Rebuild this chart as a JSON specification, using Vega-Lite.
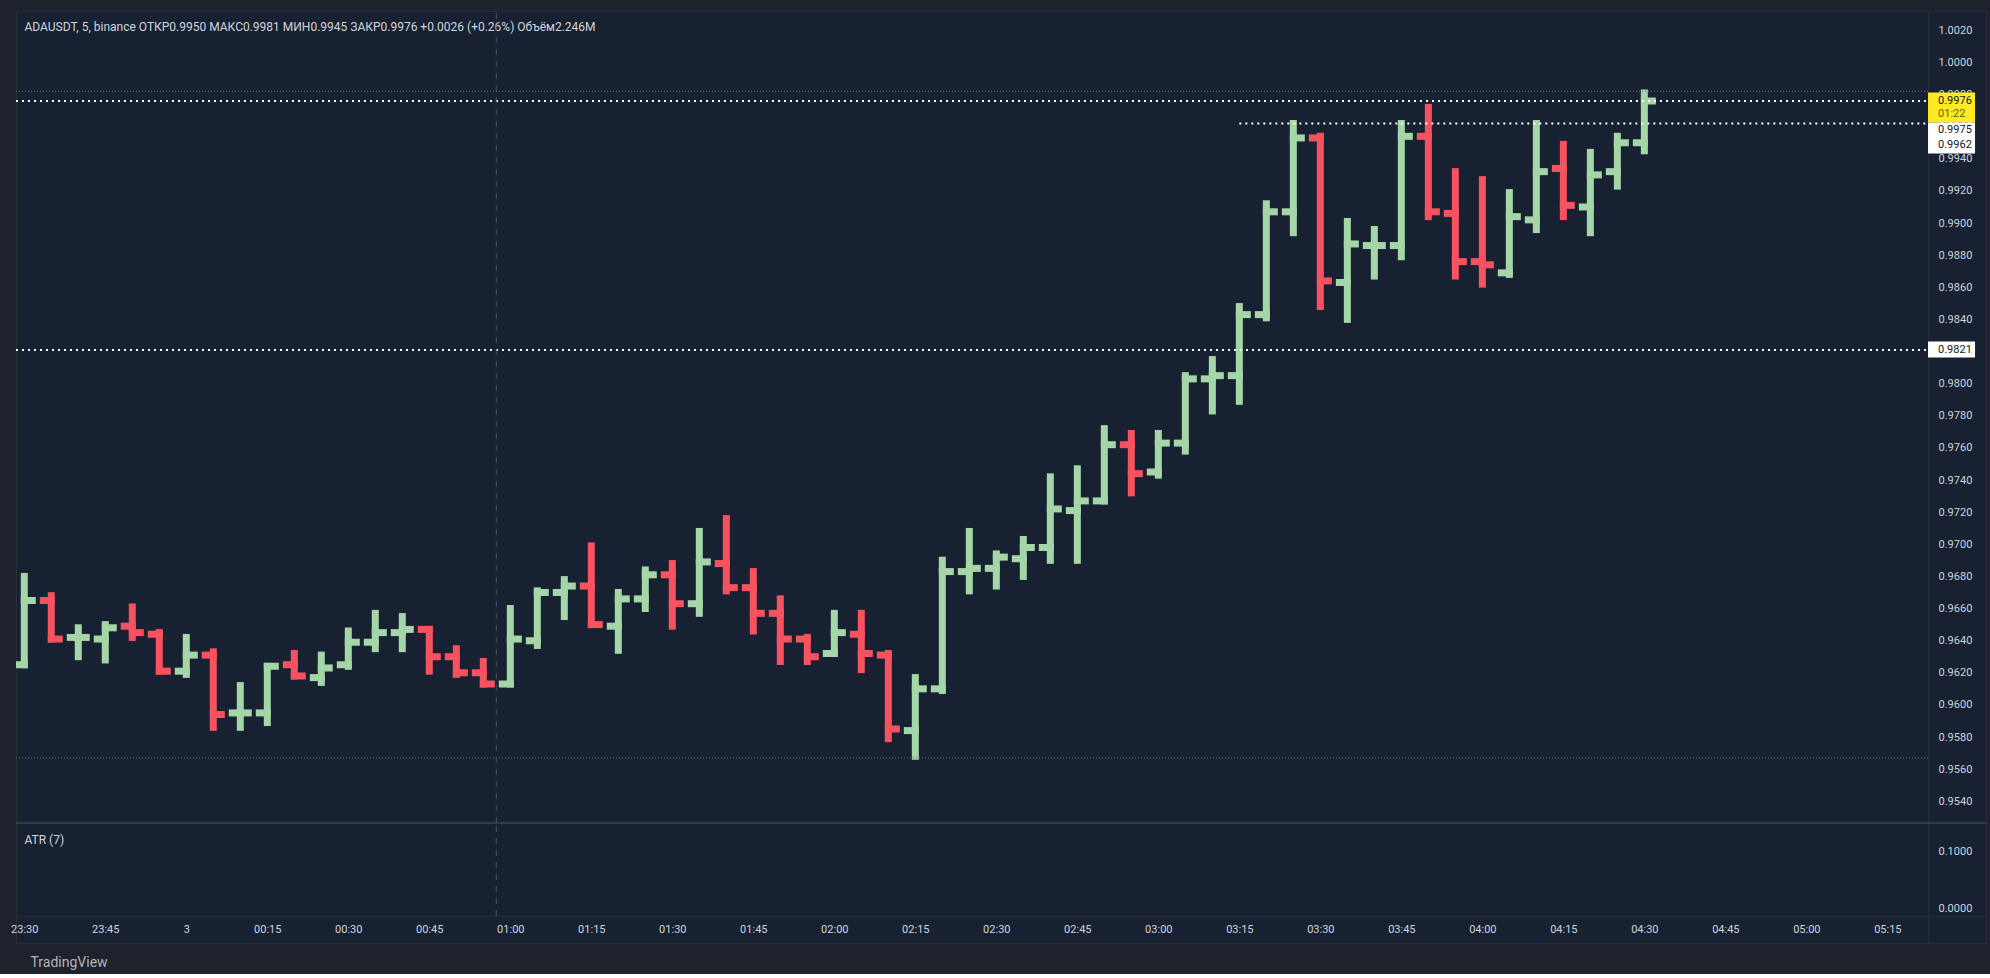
{
  "$schema": "https://vega.github.io/schema/vega-lite/v6.json",
  "background": "#1E222D",
  "padding": {"left": 10, "top": 10, "right": 10, "bottom": 5},
  "width": 1970,
  "height": 932,
  "config": {
    "font": "Roboto",
    "view": {"fill": "#172132", "stroke": "#2A2E39"},
    "axis": {"grid": false, "labelFont": "Roboto", "titleFont": "Roboto", "labelOverlap": false, "labelBound": false}
  },
  "datasets": {
    "bars": [
      {"t": "2024-01-02T23:30:00Z", "o": 0.9625, "h": 0.9680, "l": 0.9625, "c": 0.9665},
      {"t": "2024-01-02T23:35:00Z", "o": 0.9665, "h": 0.9668, "l": 0.9641, "c": 0.9641},
      {"t": "2024-01-02T23:40:00Z", "o": 0.9642, "h": 0.9648, "l": 0.9630, "c": 0.9642},
      {"t": "2024-01-02T23:45:00Z", "o": 0.9641, "h": 0.9650, "l": 0.9628, "c": 0.9648},
      {"t": "2024-01-02T23:50:00Z", "o": 0.9649, "h": 0.9661, "l": 0.9642, "c": 0.9645},
      {"t": "2024-01-02T23:55:00Z", "o": 0.9644, "h": 0.9645, "l": 0.9621, "c": 0.9621},
      {"t": "2024-01-03T00:00:00Z", "o": 0.9621, "h": 0.9642, "l": 0.9619, "c": 0.9631},
      {"t": "2024-01-03T00:05:00Z", "o": 0.9631, "h": 0.9633, "l": 0.9586, "c": 0.9594},
      {"t": "2024-01-03T00:10:00Z", "o": 0.9595, "h": 0.9612, "l": 0.9586, "c": 0.9595},
      {"t": "2024-01-03T00:15:00Z", "o": 0.9595, "h": 0.9624, "l": 0.9589, "c": 0.9624},
      {"t": "2024-01-03T00:20:00Z", "o": 0.9625, "h": 0.9632, "l": 0.9618, "c": 0.9618},
      {"t": "2024-01-03T00:25:00Z", "o": 0.9617, "h": 0.9631, "l": 0.9614, "c": 0.9623},
      {"t": "2024-01-03T00:30:00Z", "o": 0.9625, "h": 0.9646, "l": 0.9624, "c": 0.9639},
      {"t": "2024-01-03T00:35:00Z", "o": 0.9639, "h": 0.9657, "l": 0.9635, "c": 0.9645},
      {"t": "2024-01-03T00:40:00Z", "o": 0.9645, "h": 0.9655, "l": 0.9635, "c": 0.9647},
      {"t": "2024-01-03T00:45:00Z", "o": 0.9647, "h": 0.9647, "l": 0.9621, "c": 0.9630},
      {"t": "2024-01-03T00:50:00Z", "o": 0.9630, "h": 0.9635, "l": 0.9619, "c": 0.9620},
      {"t": "2024-01-03T00:55:00Z", "o": 0.9620, "h": 0.9627, "l": 0.9613, "c": 0.9613},
      {"t": "2024-01-03T01:00:00Z", "o": 0.9613, "h": 0.9660, "l": 0.9613, "c": 0.9641},
      {"t": "2024-01-03T01:05:00Z", "o": 0.9640, "h": 0.9671, "l": 0.9637, "c": 0.9670},
      {"t": "2024-01-03T01:10:00Z", "o": 0.9670, "h": 0.9678, "l": 0.9655, "c": 0.9674},
      {"t": "2024-01-03T01:15:00Z", "o": 0.9674, "h": 0.9699, "l": 0.9650, "c": 0.9650},
      {"t": "2024-01-03T01:20:00Z", "o": 0.9649, "h": 0.9670, "l": 0.9634, "c": 0.9666},
      {"t": "2024-01-03T01:25:00Z", "o": 0.9666, "h": 0.9684, "l": 0.9660, "c": 0.9681},
      {"t": "2024-01-03T01:30:00Z", "o": 0.9681, "h": 0.9688, "l": 0.9649, "c": 0.9663},
      {"t": "2024-01-03T01:35:00Z", "o": 0.9663, "h": 0.9708, "l": 0.9657, "c": 0.9689},
      {"t": "2024-01-03T01:40:00Z", "o": 0.9688, "h": 0.9716, "l": 0.9671, "c": 0.9673},
      {"t": "2024-01-03T01:45:00Z", "o": 0.9673, "h": 0.9683, "l": 0.9646, "c": 0.9657},
      {"t": "2024-01-03T01:50:00Z", "o": 0.9657, "h": 0.9666, "l": 0.9627, "c": 0.9641},
      {"t": "2024-01-03T01:55:00Z", "o": 0.9641, "h": 0.9642, "l": 0.9627, "c": 0.9630},
      {"t": "2024-01-03T02:00:00Z", "o": 0.9632, "h": 0.9657, "l": 0.9632, "c": 0.9645},
      {"t": "2024-01-03T02:05:00Z", "o": 0.9644, "h": 0.9657, "l": 0.9622, "c": 0.9632},
      {"t": "2024-01-03T02:10:00Z", "o": 0.9631, "h": 0.9632, "l": 0.9579, "c": 0.9585},
      {"t": "2024-01-03T02:15:00Z", "o": 0.9584, "h": 0.9617, "l": 0.9568, "c": 0.9610},
      {"t": "2024-01-03T02:20:00Z", "o": 0.9610, "h": 0.9690, "l": 0.9609, "c": 0.9683},
      {"t": "2024-01-03T02:25:00Z", "o": 0.9683, "h": 0.9708, "l": 0.9671, "c": 0.9685},
      {"t": "2024-01-03T02:30:00Z", "o": 0.9685, "h": 0.9694, "l": 0.9674, "c": 0.9692},
      {"t": "2024-01-03T02:35:00Z", "o": 0.9691, "h": 0.9703, "l": 0.9680, "c": 0.9698},
      {"t": "2024-01-03T02:40:00Z", "o": 0.9698, "h": 0.9742, "l": 0.9690, "c": 0.9722},
      {"t": "2024-01-03T02:45:00Z", "o": 0.9721, "h": 0.9747, "l": 0.9690, "c": 0.9727},
      {"t": "2024-01-03T02:50:00Z", "o": 0.9727, "h": 0.9772, "l": 0.9727, "c": 0.9762},
      {"t": "2024-01-03T02:55:00Z", "o": 0.9762, "h": 0.9769, "l": 0.9732, "c": 0.9744},
      {"t": "2024-01-03T03:00:00Z", "o": 0.9745, "h": 0.9769, "l": 0.9743, "c": 0.9763},
      {"t": "2024-01-03T03:05:00Z", "o": 0.9763, "h": 0.9805, "l": 0.9758, "c": 0.9803},
      {"t": "2024-01-03T03:10:00Z", "o": 0.9803, "h": 0.9815, "l": 0.9783, "c": 0.9805},
      {"t": "2024-01-03T03:15:00Z", "o": 0.9805, "h": 0.9848, "l": 0.9789, "c": 0.9843},
      {"t": "2024-01-03T03:20:00Z", "o": 0.9843, "h": 0.9912, "l": 0.9841, "c": 0.9907},
      {"t": "2024-01-03T03:25:00Z", "o": 0.9907, "h": 0.9962, "l": 0.9894, "c": 0.9953},
      {"t": "2024-01-03T03:30:00Z", "o": 0.9953, "h": 0.9954, "l": 0.9848, "c": 0.9864},
      {"t": "2024-01-03T03:35:00Z", "o": 0.9863, "h": 0.9901, "l": 0.9840, "c": 0.9887},
      {"t": "2024-01-03T03:40:00Z", "o": 0.9886, "h": 0.9896, "l": 0.9867, "c": 0.9886},
      {"t": "2024-01-03T03:45:00Z", "o": 0.9886, "h": 0.9962, "l": 0.9879, "c": 0.9954},
      {"t": "2024-01-03T03:50:00Z", "o": 0.9954, "h": 0.9972, "l": 0.9904, "c": 0.9907},
      {"t": "2024-01-03T03:55:00Z", "o": 0.9906, "h": 0.9932, "l": 0.9867, "c": 0.9876},
      {"t": "2024-01-03T04:00:00Z", "o": 0.9876, "h": 0.9927, "l": 0.9862, "c": 0.9874},
      {"t": "2024-01-03T04:05:00Z", "o": 0.9869, "h": 0.9919, "l": 0.9868, "c": 0.9904},
      {"t": "2024-01-03T04:10:00Z", "o": 0.9902, "h": 0.9962, "l": 0.9896, "c": 0.9932},
      {"t": "2024-01-03T04:15:00Z", "o": 0.9934, "h": 0.9949, "l": 0.9904, "c": 0.9911},
      {"t": "2024-01-03T04:20:00Z", "o": 0.9910, "h": 0.9944, "l": 0.9894, "c": 0.9930},
      {"t": "2024-01-03T04:25:00Z", "o": 0.9932, "h": 0.9954, "l": 0.9923, "c": 0.9950},
      {"t": "2024-01-03T04:30:00Z", "o": 0.9950, "h": 0.9981, "l": 0.9945, "c": 0.9976}
    ],
    "priceLines": [
      {"price": 0.9976, "from": "2024-01-02T23:28:28Z"},
      {"price": 0.9821, "from": "2024-01-02T23:28:28Z"},
      {"price": 0.9962, "from": "2024-01-03T03:15:00Z"}
    ],
    "rangeLines": [
      {"price": 0.9982, "from": "2024-01-02T23:28:28Z"},
      {"price": 0.9567, "from": "2024-01-02T23:28:28Z"}
    ],
    "tags": [
      {"box": "last", "price": 0.9976, "line1": "0.9976", "line2": "01:22"},
      {"box": "hl", "price": 0.9962, "line1": "0.9975", "line2": "0.9962"},
      {"box": "level", "price": 0.9821, "line1": "0.9821", "line2": ""}
    ]
  },
  "resolve": {"scale": {"y": "independent"}, "axis": {"y": "independent"}},
  "layer": [
    {
      "layer": [
        {
          "data": {"name": "bars"},
          "mark": {"type": "rule", "strokeWidth": 7, "strokeCap": "square", "clip": true},
          "encoding": {
            "x": {"field": "t", "type": "temporal",
              "scale": {"type": "utc", "nice": false, "domain": [1704238108000, 1704259996000]},
              "axis": {"orient": "bottom", "offset": -27, "ticks": false, "domainColor": "#2A2E39", "labelColor": "#D1D4DC",
                "labelFontSize": 11, "labelPadding": 7, "labelFlush": false, "labelOverlap": false, "tickCount": 60,
                "values": [1704238200000, 1704239100000, 1704240000000, 1704240900000, 1704241800000, 1704242700000, 1704243600000, 1704244500000, 1704245400000, 1704246300000, 1704247200000, 1704248100000, 1704249000000, 1704249900000, 1704250800000, 1704251700000, 1704252600000, 1704253500000, 1704254400000, 1704255300000, 1704256200000, 1704257100000, 1704258000000, 1704258900000],
                "labelExpr": "utcFormat(datum.value, '%H:%M') == '00:00' ? '3' : utcFormat(datum.value, '%H:%M')",
                "title": "TradingView", "titleAnchor": "start", "titleAlign": "left", "titleBaseline": "middle", "titleColor": "#B2B5BE",
                "titleFontSize": 14, "titleFontWeight": "normal", "titleX": 14, "titleY": 46}},
            "y": {"field": "l", "type": "quantitative",
              "scale": {"domain": [0.945175, 1.003203], "nice": false, "zero": false},
              "axis": {"orient": "right", "offset": -58, "ticks": false, "labelPadding": 10, "domainColor": "#2A2E39", "tickCount": 60,
                "values": [0.954, 0.956, 0.958, 0.96, 0.962, 0.964, 0.966, 0.968, 0.97, 0.972, 0.974, 0.976, 0.978, 0.98, 0.982, 0.984, 0.986, 0.988, 0.99, 0.992, 0.994, 0.996, 0.998, 1.0, 1.002],
                "format": ".4f", "labelColor": "#D1D4DC", "labelFontSize": 11, "labelOverlap": false,
                "title": "ADAUSDT, 5, binance ОТКР0.9950 МАКС0.9981 МИН0.9945 ЗАКР0.9976 +0.0026 (+0.26%) Объём2.246M",
                "titleAngle": 0, "titleX": -1904, "titleY": 15, "titleAlign": "left", "titleBaseline": "middle",
                "titleFontSize": 12, "titleFontWeight": "normal", "titleColor": "#D1D4DC", "titleLimit": 1200}},
            "y2": {"field": "h"},
            "color": {"condition": {"test": "datum.c >= datum.o", "value": "#A5D6A7"}, "value": "#F7525F"}
          }
        },
        {
          "data": {"name": "bars"},
          "mark": {"type": "tick", "orient": "horizontal", "size": 15, "thickness": 7, "xOffset": -4, "opacity": 1, "clip": true},
          "encoding": {
            "x": {"field": "t", "type": "temporal"},
            "y": {"field": "o", "type": "quantitative"},
            "color": {"condition": {"test": "datum.c >= datum.o", "value": "#A5D6A7"}, "value": "#F7525F"}
          }
        },
        {
          "data": {"name": "bars"},
          "mark": {"type": "tick", "orient": "horizontal", "size": 15, "thickness": 7, "xOffset": 4, "opacity": 1, "clip": true},
          "encoding": {
            "x": {"field": "t", "type": "temporal"},
            "y": {"field": "c", "type": "quantitative"},
            "color": {"condition": {"test": "datum.c >= datum.o", "value": "#A5D6A7"}, "value": "#F7525F"}
          }
        },
        {
          "data": {"values": [{"pane": "separator"}]},
          "mark": {"type": "rule", "strokeWidth": 1, "color": "#50535E"},
          "encoding": {
            "y": {"datum": 0.952646, "type": "quantitative"}
          }
        },
        {
          "data": {"name": "rangeLines"},
          "mark": {"type": "rule", "strokeWidth": 1, "strokeDash": [1, 2], "color": "#6A6D78"},
          "encoding": {
            "x": {"field": "from", "type": "temporal"},
            "x2": {"datum": 1704259352000},
            "y": {"field": "price", "type": "quantitative"}
          }
        },
        {
          "data": {"name": "priceLines"},
          "mark": {"type": "rule", "strokeWidth": 2, "strokeDash": [2, 4], "color": "#FFFFFF"},
          "encoding": {
            "x": {"field": "from", "type": "temporal"},
            "x2": {"datum": 1704259352000},
            "y": {"field": "price", "type": "quantitative"}
          }
        },
        {
          "data": {"values": [{"pane": "crosshair"}]},
          "mark": {"type": "rule", "strokeWidth": 1, "strokeDash": [6, 6], "color": "#4E5563"},
          "encoding": {
            "x": {"datum": 1704243444000, "type": "temporal"},
            "y": {"datum": 0.952646, "type": "quantitative"},
            "y2": {"datum": 1.003203}
          }
        },
        {
          "data": {"name": "tags"},
          "transform": [{"filter": "datum.box == 'last'"}],
          "mark": {"type": "tick", "orient": "horizontal", "size": 47, "thickness": 30, "yOffset": 6.5, "opacity": 1, "color": "#FFE924"},
          "encoding": {
            "x": {"datum": 1704259613000, "type": "temporal"},
            "y": {"field": "price", "type": "quantitative"}
          }
        },
        {
          "data": {"name": "tags"},
          "transform": [{"filter": "datum.box == 'hl'"}],
          "mark": {"type": "tick", "orient": "horizontal", "size": 47, "thickness": 31, "yOffset": 14.4, "opacity": 1, "color": "#FFFFFF"},
          "encoding": {
            "x": {"datum": 1704259613000, "type": "temporal"},
            "y": {"field": "price", "type": "quantitative"}
          }
        },
        {
          "data": {"name": "tags"},
          "transform": [{"filter": "datum.box == 'level'"}],
          "mark": {"type": "tick", "orient": "horizontal", "size": 47, "thickness": 16, "yOffset": -0.5, "opacity": 1, "color": "#FFFFFF"},
          "encoding": {
            "x": {"datum": 1704259613000, "type": "temporal"},
            "y": {"field": "price", "type": "quantitative"}
          }
        },
        {
          "data": {"name": "tags"},
          "transform": [{"filter": "datum.box != 'hl'"}],
          "mark": {"type": "text", "align": "left", "baseline": "middle", "dx": 10, "fontSize": 11, "color": "#131722"},
          "encoding": {
            "x": {"datum": 1704259352000, "type": "temporal"},
            "y": {"field": "price", "type": "quantitative"},
            "text": {"field": "line1"}
          }
        },
        {
          "data": {"name": "tags"},
          "transform": [{"filter": "datum.box == 'last'"}],
          "mark": {"type": "text", "align": "left", "baseline": "middle", "dx": 10, "dy": 13.5, "fontSize": 11, "color": "#6B5E12"},
          "encoding": {
            "x": {"datum": 1704259352000, "type": "temporal"},
            "y": {"field": "price", "type": "quantitative"},
            "text": {"field": "line2"}
          }
        },
        {
          "data": {"name": "tags"},
          "transform": [{"filter": "datum.box == 'hl'"}],
          "mark": {"type": "text", "align": "left", "baseline": "middle", "dx": 10, "dy": 7, "fontSize": 11, "color": "#131722"},
          "encoding": {
            "x": {"datum": 1704259352000, "type": "temporal"},
            "y": {"field": "price", "type": "quantitative"},
            "text": {"field": "line1"}
          }
        },
        {
          "data": {"name": "tags"},
          "transform": [{"filter": "datum.box == 'hl'"}],
          "mark": {"type": "text", "align": "left", "baseline": "middle", "dx": 10, "dy": 21.6, "fontSize": 11, "color": "#131722"},
          "encoding": {
            "x": {"datum": 1704259352000, "type": "temporal"},
            "y": {"field": "price", "type": "quantitative"},
            "text": {"field": "line2"}
          }
        }
      ]
    },
    {
      "data": {"values": [{"pane": "atr"}]},
      "mark": {"type": "rule", "strokeWidth": 1, "strokeDash": [6, 6], "color": "#4E5563"},
      "encoding": {
        "x": {"datum": 1704243444000, "type": "temporal"},
        "y": {"datum": -0.014, "type": "quantitative",
          "scale": {"domain": [-0.0614, 1.5737], "nice": false, "zero": false},
          "axis": {"orient": "right", "offset": -58, "ticks": false, "labelPadding": 10, "domainColor": "#2A2E39",
            "values": [0, 0.1], "format": ".4f", "labelColor": "#D1D4DC", "labelFontSize": 11,
            "title": "ATR (7)", "titleAngle": 0, "titleX": -1904, "titleY": 828, "titleAlign": "left", "titleBaseline": "middle",
            "titleFontSize": 12, "titleFontWeight": "normal", "titleColor": "#D1D4DC"}},
        "y2": {"datum": 0.1491}
      }
    }
  ]
}
